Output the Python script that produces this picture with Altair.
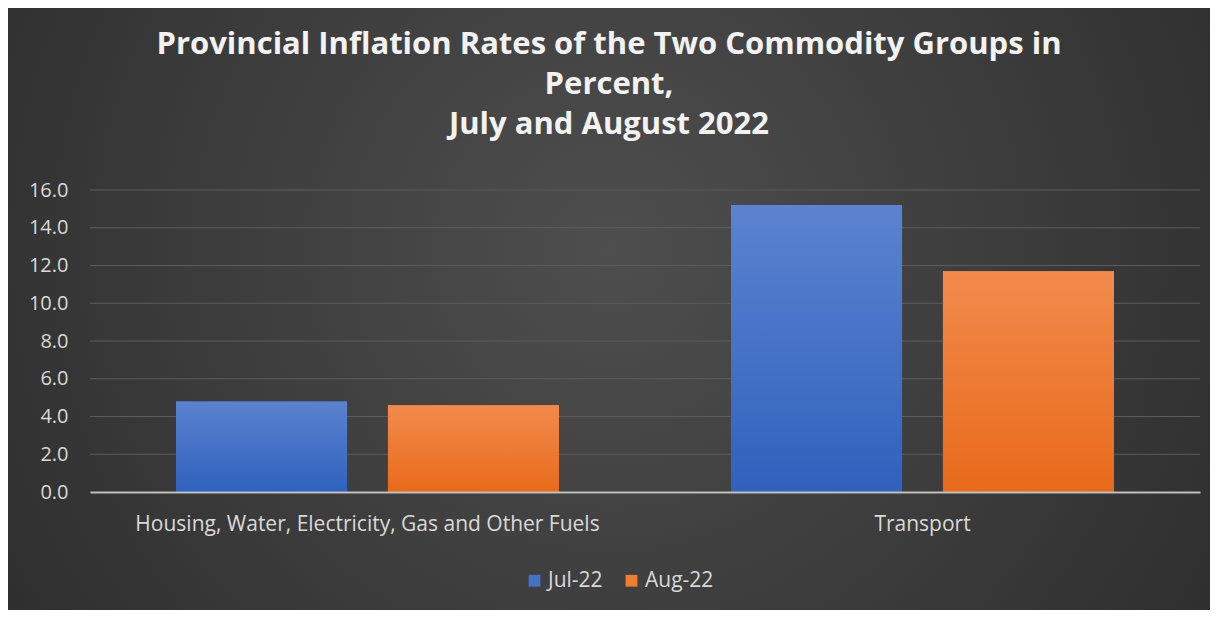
import altair as alt
import pandas as pd

categories = ["Housing, Water, Electricity, Gas and Other Fuels", "Transport"]
series = ["Jul-22", "Aug-22"]
jul_values = [4.8, 15.2]
aug_values = [4.6, 11.7]
y_ticks = [0, 2, 4, 6, 8, 10, 12, 14, 16]

rows = []
for c, j, a in zip(categories, jul_values, aug_values):
    rows.append({"category": c, "series": series[0], "value": j})
    rows.append({"category": c, "series": series[1], "value": a})
df = pd.DataFrame(rows)
grid_df = pd.DataFrame({"value": y_ticks[1:]})

W, H = 1110, 302
PAD = {"left": 82, "top": 182, "right": 10, "bottom": 118}

blue_grad = {"gradient": "linear", "x1": 0, "y1": 0, "x2": 0, "y2": 1,
             "stops": [{"offset": 0, "color": "#5b83d0"}, {"offset": 1, "color": "#2f62bd"}]}
orange_grad = {"gradient": "linear", "x1": 0, "y1": 0, "x2": 0, "y2": 1,
               "stops": [{"offset": 0, "color": "#f28a4c"}, {"offset": 1, "color": "#e86a1a"}]}
bg_grad = {"gradient": "radial", "x1": 0.5, "y1": 0.45, "r1": 0, "x2": 0.5, "y2": 0.45, "r2": 0.75,
           "stops": [{"offset": 0, "color": "#4e4e4e"}, {"offset": 1, "color": "#262626"}]}

FONT = "Open Sans"
TXT = "#d9d9d9"

x = alt.X("category:N", sort=categories, title=None,
          scale=alt.Scale(paddingInner=0.31, paddingOuter=0.155),
          axis=alt.Axis(labelAngle=0, labelFont=FONT, labelFontSize=21, labelColor=TXT,
                        labelLimit=0, ticks=False, domainColor="#bfbfbf", domainWidth=2,
                        labelPadding=21, zindex=1))
xo = alt.XOffset("series:N", sort=series, scale=alt.Scale(paddingInner=0.193, paddingOuter=0))
y_scale = alt.Scale(domain=[0, 16], nice=False)
y = alt.Y("value:Q", title=None, scale=y_scale,
          axis=alt.Axis(values=y_ticks, format=".1f", labelFont=FONT, labelFontSize=20,
                        labelColor=TXT, ticks=False, domain=False, grid=False,
                        labelPadding=22, zindex=1))

bg = alt.Chart(pd.DataFrame({"k": [0]})).mark_rect(fill=bg_grad).encode(
    x=alt.value(-PAD["left"]), x2=alt.value(W + PAD["right"]),
    y=alt.value(-PAD["top"]), y2=alt.value(H + PAD["bottom"]),
)

grid = alt.Chart(grid_df).mark_rule(color="#5c5c5c", strokeWidth=1.2).encode(y=y)

base = alt.Chart(df)
legend_bars = base.mark_bar().encode(
    x=x, xOffset=xo, y=y,
    color=alt.Color("series:N", sort=series,
                    scale=alt.Scale(domain=series, range=["#4472c4", "#ed7d31"]),
                    legend=alt.Legend(title=None, orient="none", direction="horizontal",
                                      legendX=434, legendY=380,
                                      symbolType="square", symbolSize=140, symbolStrokeWidth=0,
                                      labelFont=FONT, labelFontSize=21, labelColor=TXT,
                                      columnPadding=18, labelOffset=3)),
)
grad_bars = base.mark_bar().encode(
    x=x, xOffset=xo, y=y,
    fill=alt.condition(alt.datum.series == "Jul-22", alt.value(blue_grad), alt.value(orange_grad)),
)

chart = alt.layer(bg, grid, legend_bars, grad_bars).properties(
    width=W, height=H,
    autosize=alt.AutoSizeParams(type="none"),
    padding=PAD,
    background="#333333",
    title=alt.TitleParams(
        text=["Provincial Inflation Rates of the Two Commodity Groups in", "Percent,", "July and August 2022"],
        font=FONT, fontSize=31, fontWeight="bold", color="#f2f2f2", lineHeight=40,
        anchor="middle", frame="group", dx=-36, offset=-133),
).configure_view(stroke=None)

chart.save("out.html", embed_options={"renderer": "svg", "actions": False})
